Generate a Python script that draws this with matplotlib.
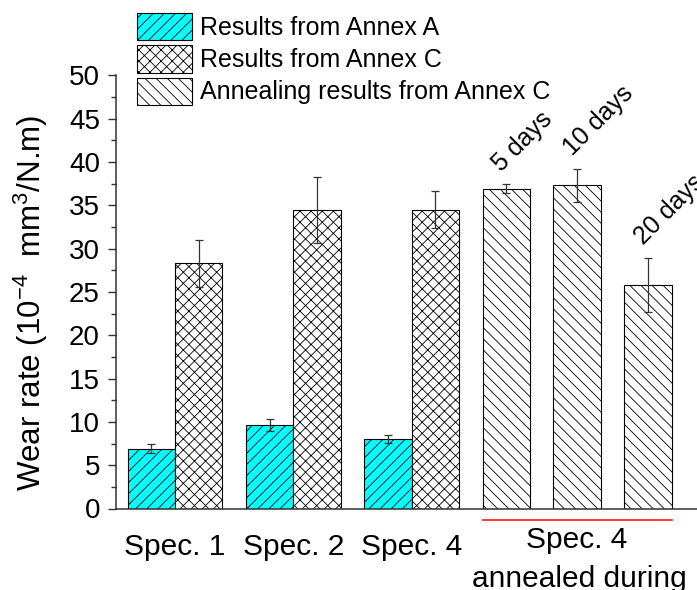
import matplotlib
matplotlib.use('Agg')
import matplotlib.pyplot as plt
import numpy as np
from matplotlib.ticker import MultipleLocator

plt.rcParams['font.family'] = ['Liberation Sans', 'DejaVu Sans']
plt.rcParams['mathtext.fontset'] = 'custom'
plt.rcParams['mathtext.rm'] = 'Liberation Sans'
plt.rcParams['mathtext.it'] = 'Liberation Sans:italic'
plt.rcParams['mathtext.bf'] = 'Liberation Sans:bold'
plt.rcParams['hatch.linewidth'] = 0.6

# ---- data ----
specimens = ['Spec. 1', 'Spec. 2', 'Spec. 4']
annex_a = [6.9, 9.6, 8.0]
annex_a_err = [0.5, 0.68, 0.47]
annex_c = [28.3, 34.4, 34.5]
annex_c_err = [2.7, 3.8, 2.17]
anneal_labels = ['5 days', '10 days', '20 days']
anneal = [36.9, 37.3, 25.8]
anneal_err = [0.52, 1.9, 3.15]
legend_labels = ['Results from Annex A', 'Results from Annex C',
                 'Annealing results from Annex C']
anneal_group_label = 'Spec. 4'
anneal_group_sub = 'annealed during'

# ---- layout ----
W, H = 697, 590
fig = plt.figure(figsize=(W / 100, H / 100), dpi=100)
ax = fig.add_axes([116 / W, 1 - 508.5 / H, 603 / W, 433.3 / H])

w = 0.4
grp = np.arange(1, len(specimens) + 1)
anneal_x = 3.8 + 0.6 * np.arange(len(anneal))

ekw = dict(ecolor='#333333', elinewidth=0.9, capsize=3.1, capthick=0.9, zorder=4)
b1 = ax.bar(grp - w / 2, annex_a, w, yerr=annex_a_err, color='#00FFFF',
            edgecolor='black', linewidth=0.8, hatch='///', error_kw=ekw,
            label=legend_labels[0], zorder=2)
b2 = ax.bar(grp + w / 2, annex_c, w, yerr=annex_c_err, color='white',
            edgecolor='black', linewidth=0.8, hatch='xxx', error_kw=ekw,
            label=legend_labels[1], zorder=2)
b3 = ax.bar(anneal_x, anneal, w, yerr=anneal_err, color='white',
            edgecolor='black', linewidth=0.8, hatch='\\\\\\', error_kw=ekw,
            label=legend_labels[2], zorder=2)

for x, v, e, lab in zip(anneal_x, anneal, anneal_err, anneal_labels):
    ax.annotate(lab, xy=(x, v + e), xytext=(-3.5, 8.6), textcoords='offset points',
                rotation=45, rotation_mode='anchor', ha='left', va='baseline',
                fontsize=18, annotation_clip=False)

ax.set_xlim(0.5, 5.6)
ax.set_ylim(0, 50)
for s in ['top', 'right']:
    ax.spines[s].set_visible(False)
for s in ['left', 'bottom']:
    ax.spines[s].set_linewidth(1.1)
    ax.spines[s].set_color('#333333')

ax.set_xticks(grp, specimens)
ax.tick_params(axis='x', length=0, pad=17.5, labelsize=21.5)
ax.yaxis.set_major_locator(MultipleLocator(5))
ax.yaxis.set_minor_locator(MultipleLocator(2.5))
ax.tick_params(axis='y', which='major', direction='out', length=5.8, width=1.0,
               color='#333333', labelsize=20, pad=5.8)
ax.tick_params(axis='y', which='minor', direction='out', length=3.6, width=1.0,
               color='#333333')

ax.set_ylabel(r'Wear rate (10$^{-4}$  mm$^{3}$/N.m)', fontsize=22.5)
ax.yaxis.set_label_coords(-0.110, 0.474)

xt = ax.get_xaxis_transform()
ax.plot([anneal_x[0] - w / 2, anneal_x[-1] + w / 2], [-0.0265, -0.0265],
        transform=xt, color='red', lw=1.1, clip_on=False)
ax.text(anneal_x[1], (508.5 - 548) / 433.3, anneal_group_label, transform=xt,
        ha='center', va='baseline', fontsize=21.5)
ax.text(anneal_x[1] + 0.02, (508.5 - 587) / 433.3, anneal_group_sub, transform=xt,
        ha='center', va='baseline', fontsize=21.5)

fig.legend(handles=[b1, b2, b3], loc='upper left',
           bbox_to_anchor=(137 / W, 1 - 13 / H), bbox_transform=fig.transFigure,
           frameon=False, borderpad=0, borderaxespad=0, handlelength=2.2,
           handleheight=1.3, handletextpad=0.32, labelspacing=0.2, fontsize=18)

fig.savefig('out.png', dpi=100)
